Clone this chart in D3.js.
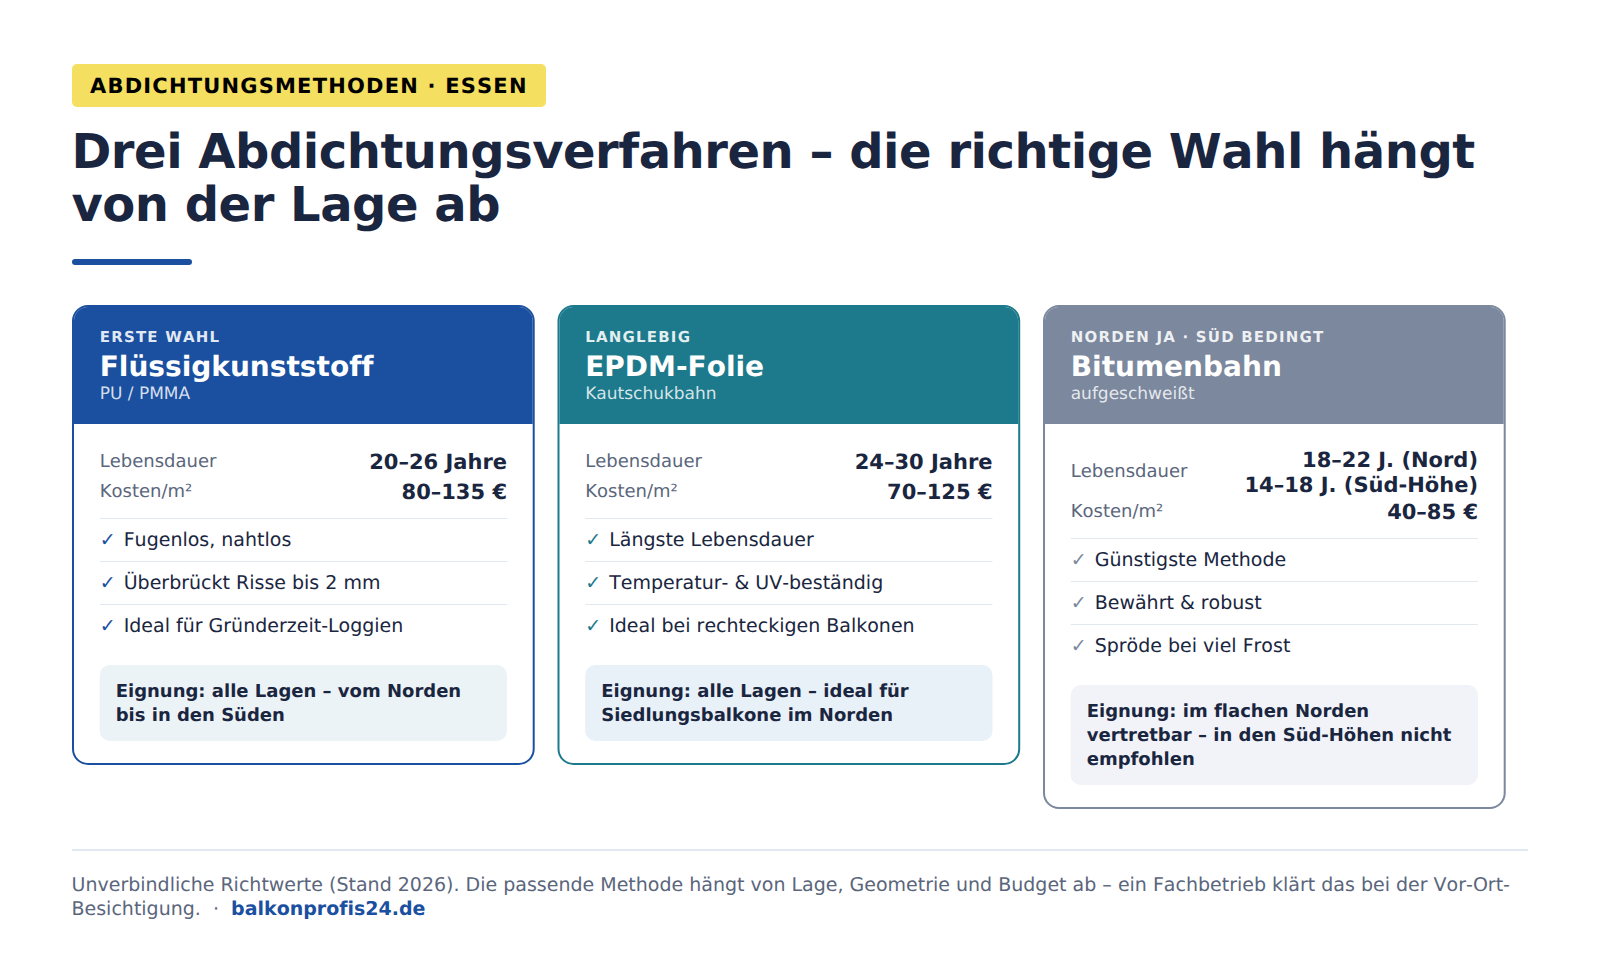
<!DOCTYPE html>
<html>
<head>
<meta charset="utf-8">
<script src="https://cdn.jsdelivr.net/npm/d3@7"></script>
<style>
  html, body { margin: 0; padding: 0; background: #fff; }
  svg { display: block; }
  text {
    font-family: "DejaVu Sans", sans-serif;
    font-kerning: none;
    font-variant-ligatures: none;
    text-rendering: geometricPrecision;
  }
</style>
</head>
<body>
<script>
var width = 1600;
var height = 975;

// content
var badgeText = 'ABDICHTUNGSMETHODEN · ESSEN';
var titleLines = ['Drei Abdichtungsverfahren – die richtige Wahl hängt', 'von der Lage ab'];
var footerLines = ['Unverbindliche Richtwerte (Stand 2026). Die passende Methode hängt von Lage, Geometrie und Budget ab – ein Fachbetrieb klärt das bei der Vor-Ort-', 'Besichtigung.  ·  '];
var footerLink = 'balkonprofis24.de';

var kickers = ['ERSTE WAHL', 'LANGLEBIG', 'NORDEN JA · SÜD BEDINGT'];
var names = ['Flüssigkunststoff', 'EPDM-Folie', 'Bitumenbahn'];
var subtitles = ['PU / PMMA', 'Kautschukbahn', 'aufgeschweißt'];
var lifetimes = [['20–26 Jahre'], ['24–30 Jahre'], ['18–22 J. (Nord)', '14–18 J. (Süd-Höhe)']];
var costs = ['80–135 €', '70–125 €', '40–85 €'];
var features = [
  ['Fugenlos, nahtlos', 'Überbrückt Risse bis 2 mm', 'Ideal für Gründerzeit-Loggien'],
  ['Längste Lebensdauer', 'Temperatur- & UV-beständig', 'Ideal bei rechteckigen Balkonen'],
  ['Günstigste Methode', 'Bewährt & robust', 'Spröde bei viel Frost']
];
var fitness = [
  ['Eignung: alle Lagen – vom Norden', 'bis in den Süden'],
  ['Eignung: alle Lagen – ideal für', 'Siedlungsbalkone im Norden'],
  ['Eignung: im flachen Norden', 'vertretbar – in den Süd-Höhen nicht', 'empfohlen']
];
var colors = ['#1a509f', '#1d7a8c', '#7b889e'];
var boxColors = ['#ecf3f7', '#e9f1f8', '#f1f3f8'];

var navy = '#1a2640';
var grey = '#5a667c';
var rule = '#e2e8f0';

var svg = d3.select('body').append('svg')
    .attr('width', width)
    .attr('height', height);

// header
svg.append('rect').attr('x', 72).attr('y', 64).attr('width', 474).attr('height', 43)
    .attr('rx', 5).attr('fill', '#f4df60');
svg.append('text').attr('x', 90).attr('y', 93)
    .attr('font-size', 21).attr('font-weight', 700).attr('letter-spacing', 1.2)
    .attr('fill', '#000').text(badgeText);

svg.selectAll('text.title')
    .data(titleLines)
  .enter().append('text')
    .attr('class', 'title')
    .attr('x', 71.5)
    .attr('y', function(d, i) { return 168 + i * 52.8; })
    .attr('font-size', 48).attr('font-weight', 700).attr('letter-spacing', -0.48)
    .attr('fill', navy)
    .text(function(d) { return d; });

svg.append('rect').attr('x', 72).attr('y', 259).attr('width', 120).attr('height', 6)
    .attr('rx', 3).attr('fill', '#1a509f');

// cards
var cardX = d3.scaleBand()
    .domain(d3.range(names.length))
    .range([72, 1505.7])
    .paddingInner(22.8 / 485.5)
    .paddingOuter(0);

var cards = svg.selectAll('g.card')
    .data(names)
  .enter().append('g')
    .attr('class', 'card')
    .attr('transform', function(d, i) { return 'translate(' + cardX(i) + ',305)'; })
    .each(drawCard);

function drawCard(name, c) {
  var g = d3.select(this);
  var w = cardX.bandwidth();
  var inner = 27.7;
  var extra = lifetimes[c].length > 1 ? 20 : 0;
  var boxH = 28 + fitness[c].length * 24;
  var boxY = 360 + extra;
  var h = boxY + boxH + 24;
  var color = colors[c];

  // white body with border
  g.append('rect').attr('x', 1).attr('y', 1).attr('width', w - 2).attr('height', h - 2)
      .attr('rx', 15).attr('fill', '#fff').attr('stroke', color).attr('stroke-width', 2);

  // header sits inside the border, round top corners only
  g.append('path')
      .attr('d', 'M2,119V16A14,14 0 0 1 16,2H' + (w - 16) + 'A14,14 0 0 1 ' + (w - 2) + ',16V119Z')
      .attr('fill', color);

  g.append('text').attr('x', inner).attr('y', 37)
      .attr('font-size', 15).attr('font-weight', 700).attr('letter-spacing', 1.2)
      .attr('fill', '#fff').attr('fill-opacity', 0.88).text(kickers[c]);
  g.append('text').attr('x', inner).attr('y', 71.2)
      .attr('font-size', 28).attr('font-weight', 700)
      .attr('fill', '#fff').text(name);
  g.append('text').attr('x', inner).attr('y', 94)
      .attr('font-size', 17)
      .attr('fill', '#fff').attr('fill-opacity', 0.82).text(subtitles[c]);

  // metrics
  var right = w - inner;
  var lifeLabelY = extra ? 172 : 162;
  var costY = extra ? 212 : 192;
  g.append('text').attr('x', inner).attr('y', lifeLabelY)
      .attr('font-size', 18).attr('fill', grey).text('Lebensdauer');
  g.append('text').attr('x', inner).attr('y', costY)
      .attr('font-size', 18).attr('fill', grey).text('Kosten/m²');

  g.selectAll('text.life')
      .data(lifetimes[c])
    .enter().append('text')
      .attr('class', 'life')
      .attr('x', right)
      .attr('y', function(d, i) { return (extra ? 161.7 : 163.8) + i * 25.2; })
      .attr('text-anchor', 'end')
      .attr('font-size', 21).attr('font-weight', 700).attr('fill', navy)
      .text(function(d) { return d; });
  g.append('text').attr('x', right).attr('y', costY + 2)
      .attr('text-anchor', 'end')
      .attr('font-size', 21).attr('font-weight', 700).attr('fill', navy)
      .text(costs[c]);

  // feature list
  var listTop = 213.5 + extra;
  var row = g.selectAll('g.feature')
      .data(features[c])
    .enter().append('g')
      .attr('class', 'feature')
      .attr('transform', function(d, i) { return 'translate(0,' + (listTop + i * 43) + ')'; });
  row.append('line')
      .attr('x1', inner).attr('x2', right)
      .attr('stroke', rule).attr('stroke-width', 1);
  row.append('text').attr('x', inner).attr('y', 27.5)
      .attr('font-size', 19).attr('fill', color).text('✓');
  row.append('text').attr('x', inner + 24).attr('y', 27.5)
      .attr('font-size', 19).attr('fill', navy)
      .text(function(d) { return d; });

  // suitability box
  g.append('rect').attr('x', inner).attr('y', boxY)
      .attr('width', right - inner).attr('height', boxH)
      .attr('rx', 10).attr('fill', boxColors[c]);
  g.selectAll('text.fit')
      .data(fitness[c])
    .enter().append('text')
      .attr('class', 'fit')
      .attr('x', inner + 16)
      .attr('y', function(d, i) { return boxY + 32 + i * 24; })
      .attr('font-size', 18).attr('font-weight', 700).attr('fill', navy)
      .text(function(d) { return d; });
}

// footer
svg.append('line').attr('x1', 72).attr('x2', 1528).attr('y1', 850).attr('y2', 850)
    .attr('stroke', rule).attr('stroke-width', 2);
svg.append('text').attr('x', 71.5).attr('y', 891)
    .attr('font-size', 19).attr('fill', grey).text(footerLines[0]);
var foot = svg.append('text').attr('x', 71.5).attr('y', 914.5)
    .attr('font-size', 19).attr('fill', grey).attr('xml:space', 'preserve');
foot.append('tspan').text(footerLines[1]);
foot.append('tspan').attr('font-weight', 700).attr('fill', '#1a509f').text(footerLink);
</script>
</body>
</html>
